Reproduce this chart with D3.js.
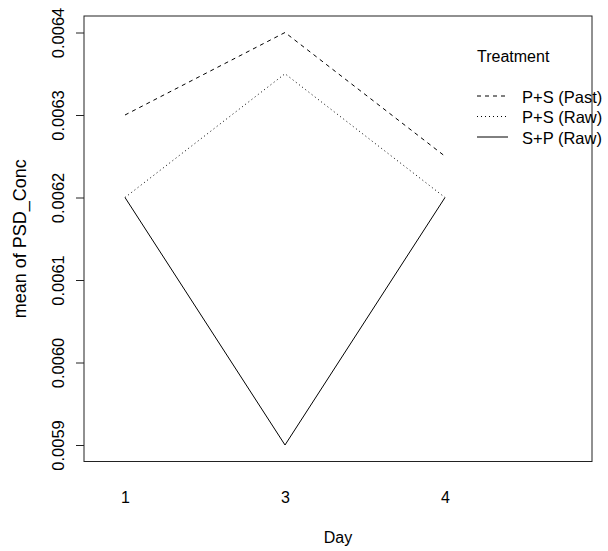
<!DOCTYPE html>
<html>
<head>
<meta charset="utf-8">
<script src="https://cdn.jsdelivr.net/npm/d3@7"></script>
<style>
  html, body { margin: 0; padding: 0; background: #fff; }
  svg text { font-family: "Liberation Sans", Arial, Helvetica, sans-serif; font-size: 16px; fill: #000; }
</style>
</head>
<body>
<svg id="chart" width="608" height="551"></svg>
<script>
// ---- data ----
const days = ["1", "3", "4"];
const treatments = ["P+S (Past)", "P+S (Raw)", "S+P (Raw)"];
const pastValues = [0.00630, 0.00640, 0.00625];
const psRawValues = [0.00620, 0.00635, 0.00620];
const spRawValues = [0.00620, 0.00590, 0.00620];
const yTickValues = [0.0059, 0.0060, 0.0061, 0.0062, 0.0063, 0.0064];
const yTickLabels = ["0.0059", "0.0060", "0.0061", "0.0062", "0.0063", "0.0064"];
const dashStyles = ["4,4", "1,3", null];

const seriesList = [pastValues, psRawValues, spRawValues];

// ---- layout ----
const box = { left: 84, right: 592, top: 16, bottom: 461.5 };
const svg = d3.select("#chart");

const x = d3.scaleLinear().domain([0.74375, 3.91875]).range([box.left, box.right]);
const y = d3.scaleLinear().domain([0.00588, 0.00642]).range([box.bottom, box.top]);

// plot frame
svg.append("rect")
  .attr("x", box.left).attr("y", box.top)
  .attr("width", box.right - box.left).attr("height", box.bottom - box.top)
  .attr("fill", "none").attr("stroke", "#222").attr("stroke-width", 1);

// y axis ticks + labels
const yAxis = d3.axisLeft(y)
  .tickValues(yTickValues)
  .tickFormat((d, i) => yTickLabels[i])
  .tickSize(8)
  .tickPadding(0);
const gy = svg.append("g").attr("transform", `translate(${box.left},0)`).call(yAxis);
gy.select(".domain").remove();
gy.selectAll(".tick line").attr("stroke", "#222");
gy.selectAll(".tick text").remove();
gy.selectAll(".tick").append("text")
  .attr("transform", "rotate(-90)")
  .attr("x", 0)
  .attr("y", 64 - box.left)
  .attr("text-anchor", "middle")
  .style("font-size", "16.5px")
  .text((d, i) => yTickLabels[i]);

// x axis labels (no ticks)
const xAxis = d3.axisBottom(x)
  .tickValues(days.map((d, i) => i + 1))
  .tickFormat((d, i) => days[i])
  .tickSize(0)
  .tickPadding(0);
const gx = svg.append("g").attr("transform", `translate(0,${box.bottom})`).call(xAxis);
gx.select(".domain").remove();
gx.selectAll(".tick text")
  .attr("y", 503 - box.bottom)
  .attr("dy", null)
  .style("font-size", "16px")
  .style("font-family", "'Liberation Sans', Arial, sans-serif")
  .attr("fill", "#000");

// axis titles
svg.append("text")
  .attr("x", (box.left + box.right) / 2)
  .attr("y", 543)
  .attr("text-anchor", "middle")
  .text("Day");
svg.append("text")
  .attr("transform", `translate(26,${(box.top + box.bottom) / 2}) rotate(-90)`)
  .attr("text-anchor", "middle")
  .style("font-size", "18px")
  .text("mean of PSD_Conc");

// lines
const line = d3.line()
  .x((d, i) => x(i + 1))
  .y(d => y(d));

seriesList.forEach((vals, k) => {
  svg.append("path")
    .datum(vals)
    .attr("d", line)
    .attr("fill", "none")
    .attr("stroke", "#000")
    .attr("stroke-width", 1)
    .attr("stroke-dasharray", dashStyles[k]);
});

// legend
svg.append("text")
  .attr("x", 477)
  .attr("y", 61.5)
  .text("Treatment");
const legendY = [96, 116.5, 137];
treatments.forEach((t, k) => {
  svg.append("line")
    .attr("x1", 477).attr("x2", 508)
    .attr("y1", legendY[k]).attr("y2", legendY[k])
    .attr("stroke", "#000").attr("stroke-width", 1)
    .attr("stroke-dasharray", dashStyles[k]);
  svg.append("text")
    .attr("x", 522)
    .attr("y", legendY[k] + 6.5)
    .style("font-size", "16.5px")
    .text(t);
});
</script>
</body>
</html>
